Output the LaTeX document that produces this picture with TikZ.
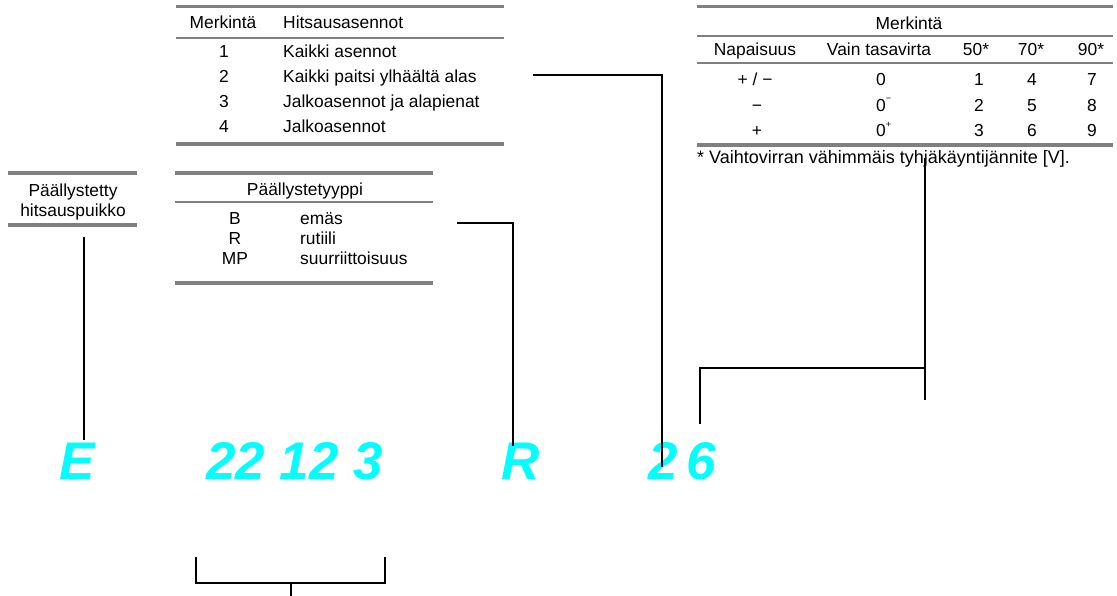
\documentclass[tikz,border=0pt]{standalone}
\usepackage{fontspec}
\setmainfont{Liberation Sans}
\definecolor{rulegray}{RGB}{128,128,128}
\definecolor{codecyan}{RGB}{0,255,255}
\begin{document}
\begin{tikzpicture}[x=1pt,y=-1pt,
  txt/.style={inner sep=0pt, anchor=base, font=\fontsize{17.4}{20}\selectfont},
  txtl/.style={txt, anchor=base west},
  code/.style={inner sep=0pt, anchor=base west, text=codecyan,
    font=\fontsize{53}{60}\selectfont\bfseries\itshape},
  heavyrule/.style={rulegray, line width=3.5pt},
  lightrule/.style={rulegray, line width=2pt},
  link/.style={black, line width=2.2pt}]
\useasboundingbox (0,0) rectangle (1117,596);

% --- welding positions table
\draw[heavyrule] (176,6.5) -- (504,6.5);
\draw[lightrule] (176,38) -- (504,38);
\draw[heavyrule] (176,144) -- (504,144);
\node[txt]  (posH1) at (223,29) {Merkintä};
\node[txtl] (posH2) at (283,29) {Hitsausasennot};
\node[txt]  (pos1n) at (224,58) {1};
\node[txtl] (pos1t) at (283,58) {Kaikki asennot};
\node[txt]  (pos2n) at (224,83) {2};
\node[txtl] (pos2t) at (283,83) {Kaikki paitsi ylhäältä alas};
\node[txt]  (pos3n) at (224,108) {3};
\node[txtl] (pos3t) at (283,108) {Jalkoasennot ja alapienat};
\node[txt]  (pos4n) at (224,133) {4};
\node[txtl] (pos4t) at (283,133) {Jalkoasennot};

% --- current / polarity table
\draw[heavyrule] (697,6.5) -- (1113,6.5);
\draw[lightrule] (697,36) -- (1113,36);
\draw[lightrule] (697,63) -- (1113,63);
\draw[heavyrule] (697,145) -- (1113,145);
\node[txt] (curH) at (909,30) {Merkintä};
\node[txt] (curA) at (755,56) {Napaisuus};
\node[txt] (curB) at (879,56) {Vain tasavirta};
\node[txt] (curC) at (976,56) {50*};
\node[txt] (curD) at (1031,56) {70*};
\node[txt] (curE) at (1091,56) {90*};
\node[txt] (r1a) at (755,86) {+ / −};
\node[txt] (r1b) at (881,86) {0};
\node[txt] (r1c) at (979,86) {1};
\node[txt] (r1d) at (1032,86) {4};
\node[txt] (r1e) at (1092,86) {7};
\node[txt] (r2a) at (757,111.5) {−};
\node[txt] (r2b) at (881,111.5) {0\rlap{\raisebox{0.55em}{\fontsize{9}{10}\selectfont −}}};
\node[txt] (r2c) at (979,111.5) {2};
\node[txt] (r2d) at (1032,111.5) {5};
\node[txt] (r2e) at (1092,111.5) {8};
\node[txt] (r3a) at (757,137) {+};
\node[txt] (r3b) at (881,137) {0\rlap{\raisebox{0.55em}{\fontsize{9}{10}\selectfont +}}};
\node[txt] (r3c) at (979,137) {3};
\node[txt] (r3d) at (1032,137) {6};
\node[txt] (r3e) at (1092,137) {9};
\node[txtl, font=\fontsize{18}{21}\selectfont] (note) at (697,163.5)
  {* Vaihtovirran vähimmäis tyhjäkäyntijännite [V].};

% --- electrode box
\draw[heavyrule] (8,173) -- (137,173);
\draw[heavyrule] (8,225) -- (137,225);
\node[txt] (el1) at (73,197) {Päällystetty};
\node[txt] (el2) at (73,217) {hitsauspuikko};

% --- coating type table
\draw[heavyrule] (175,173) -- (433,173);
\draw[lightrule] (175,202) -- (433,202);
\draw[heavyrule] (175,283) -- (433,283);
\node[txt]  (coH) at (305,196) {Päällystetyyppi};
\node[txt]  (co1n) at (235,225) {B};
\node[txtl] (co1t) at (300,225) {emäs};
\node[txt]  (co2n) at (235,245) {R};
\node[txtl] (co2t) at (300,245) {rutiili};
\node[txt]  (co3n) at (235,265) {MP};
\node[txtl] (co3t) at (300,265) {suurriittoisuus};

% --- designation
\node[code] (cE)  at (59,479)  {E};
\node[code] (cN)  at (206,479) {22 12 3};
\node[code] (cR)  at (501,479) {R};
\node[code] (c2)  at (648,479) {2};
\node[code] (c6)  at (686,479) {6};

% --- leader lines
\coordinate (eTop) at (84,237);
\coordinate (eEnd) at (84,440);
\draw[link] (eTop) -- (eEnd);

\coordinate (coOut) at (457,223);
\coordinate (coEnd) at (513,446);
\draw[link] (coOut) -| (coEnd);

\coordinate (posOut) at (533,75);
\coordinate (posEnd) at (662,467);
\draw[link] (posOut) -| (posEnd);

\coordinate (curTop) at (925,158);
\coordinate (curBot) at (925,400);
\coordinate (curJoin) at (925,368);
\coordinate (curEnd) at (700,424);
\draw[link] (curTop) -- (curBot);
\draw[link] (curJoin) -| (curEnd);

\coordinate (brL) at (196,557);
\coordinate (brR) at (385,557);
\coordinate (brMid) at (291,583);
\coordinate (brEnd) at (291,596);
\draw[link] (brL) |- (brMid) -| (brR);
\draw[link] (brMid) -- (brEnd);
\end{tikzpicture}
\end{document}
